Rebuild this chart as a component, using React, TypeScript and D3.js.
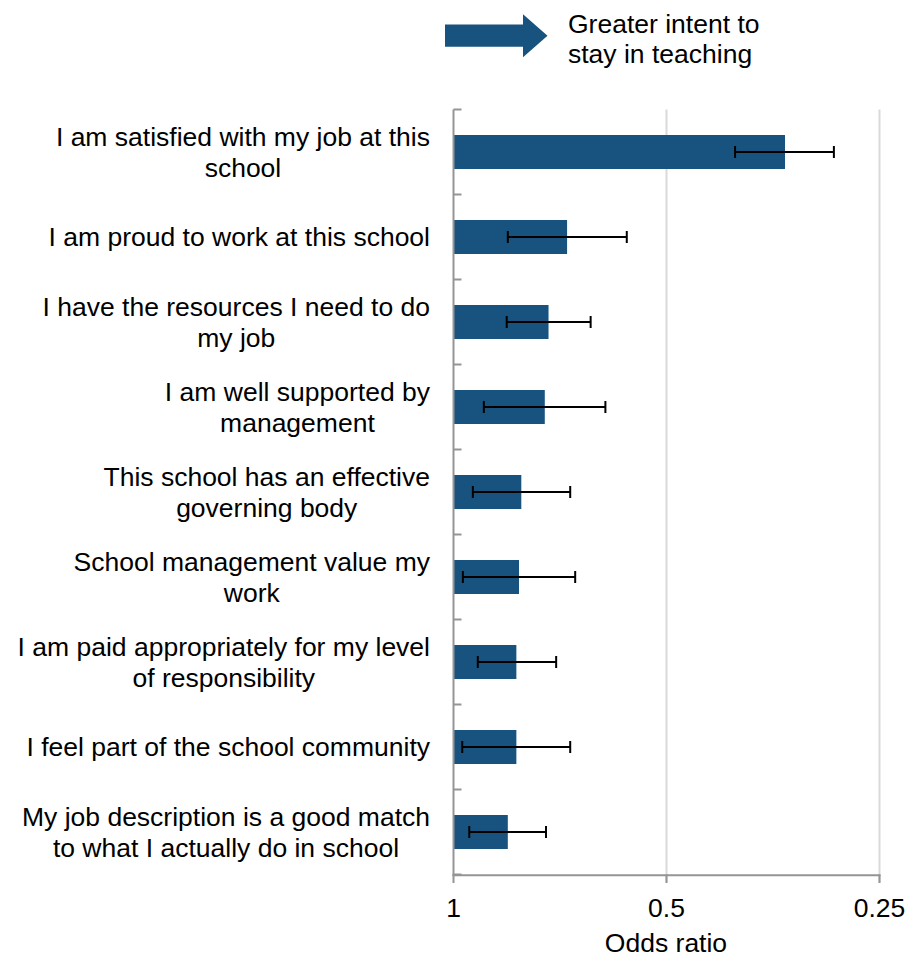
import React from "react";
import * as d3 from "d3";

const categoryLines: string[][] = [
  ["I am satisfied with my job at this", "school"],
  ["I am proud to work at this school"],
  ["I have the resources I need to do", "my job"],
  ["I am well supported by", "management"],
  ["This school has an effective", "governing body"],
  ["School management value my", "work"],
  ["I am paid appropriately for my level", "of responsibility"],
  ["I feel part of the school community"],
  ["My job description is a good match", "to what I actually do in school"],
];
const oddsRatio: number[] = [0.34, 0.691, 0.734, 0.743, 0.802, 0.808, 0.815, 0.815, 0.838];
const ciUpper: number[] = [0.4, 0.838, 0.841, 0.906, 0.939, 0.97, 0.924, 0.972, 0.95];
const ciLower: number[] = [0.29, 0.569, 0.64, 0.61, 0.684, 0.673, 0.716, 0.684, 0.74];
const tickValues: number[] = [1, 0.5, 0.25];
const tickLabels: string[] = ["1", "0.5", "0.25"];
const axisTitle = "Odds ratio";
const arrowLabel: string[] = ["Greater intent to", "stay in teaching"];

const W = 908;
const H = 958;
const FONT = "'Liberation Sans', Arial, sans-serif";
const FS = 26.5;
const BLUE = "#18537F";
const AXIS = "#959595";
const GRID = "#d9d9d9";

let measureCtx: CanvasRenderingContext2D | null = null;
function textWidth(s: string): number {
  if (!measureCtx) {
    const c = document.createElement("canvas");
    measureCtx = c.getContext("2d");
  }
  if (!measureCtx) return s.length * FS * 0.5;
  measureCtx.font = `${FS}px 'Liberation Sans', Arial, sans-serif`;
  return measureCtx.measureText(s).width;
}

export default function App() {
  const left = 453.5;
  const right = 879.5;
  const top = 109.5;
  const bottom = 874.5;

  const x = d3.scaleLog().base(2).domain([1, 0.25]).range([left, right]);
  const ids = categoryLines.map((_, i) => String(i));
  const y = d3
    .scaleBand<string>()
    .domain(ids)
    .range([top, bottom])
    .paddingInner(0.6)
    .paddingOuter(0.3);
  const step = y.step();
  const bw = y.bandwidth();
  const labelRight = 430;
  const lineGap = 31;
  const capHalf = FS * 0.716 / 2;

  const arrowPts: [number, number][] = [
    [445, 24.5],
    [523, 24.5],
    [523, 14.3],
    [547.5, 35.8],
    [523, 57.3],
    [523, 46.8],
    [445, 46.8],
  ];

  return (
    <svg
      width={W}
      height={H}
      style={{ position: "absolute", left: 0, top: 0, background: "#fff" }}
      fontFamily={FONT}
    >
      <rect x={0} y={0} width={W} height={H} fill="#fff" />
      {/* header arrow */}
      <polygon points={arrowPts.map((p) => p.join(",")).join(" ")} fill={BLUE} />
      {arrowLabel.map((t, i) => (
        <text key={t} x={568} y={33.3 + i * 30} fontSize={FS} fill="#000">
          {t}
        </text>
      ))}

      {/* gridlines */}
      {tickValues.slice(1).map((v) => (
        <line key={v} x1={x(v)} x2={x(v)} y1={top} y2={bottom + 8} stroke={GRID} strokeWidth={2} />
      ))}

      {/* bars */}
      {ids.map((id, i) => (
        <rect
          key={id}
          x={x(1)}
          y={y(id)!}
          width={x(oddsRatio[i]) - x(1)}
          height={bw}
          fill={BLUE}
        />
      ))}

      {/* error bars */}
      {ids.map((id, i) => {
        const cy = y(id)! + bw / 2;
        const x1 = x(ciUpper[i]);
        const x2 = x(ciLower[i]);
        return (
          <g key={id} stroke="#000" strokeWidth={2}>
            <line x1={x1} x2={x2} y1={cy} y2={cy} />
            <line x1={x1} x2={x1} y1={cy - 6} y2={cy + 6} />
            <line x1={x2} x2={x2} y1={cy - 6} y2={cy + 6} />
          </g>
        );
      })}

      {/* left axis */}
      <line x1={left} x2={left} y1={top} y2={bottom + 1} stroke={AXIS} strokeWidth={2} />
      {d3.range(categoryLines.length + 1).map((k) => (
        <line
          key={k}
          x1={left}
          x2={left + 8}
          y1={top + k * step}
          y2={top + k * step}
          stroke={AXIS}
          strokeWidth={2}
        />
      ))}

      {/* bottom axis */}
      <line x1={left - 1} x2={right + 1} y1={bottom + 0.8} y2={bottom + 0.8} stroke={AXIS} strokeWidth={2} />
      {tickValues.map((v, i) => (
        <g key={v}>
          <line x1={x(v)} x2={x(v)} y1={bottom} y2={bottom + 8.5} stroke={AXIS} strokeWidth={2} />
          <text x={x(v)} y={916.7} fontSize={FS} textAnchor="middle" fill="#000">
            {tickLabels[i]}
          </text>
        </g>
      ))}
      <text x={(left + right) / 2 - 0.5} y={952} fontSize={FS} textAnchor="middle" fill="#000">
        {axisTitle}
      </text>

      {/* category labels */}
      {categoryLines.map((lines, i) => {
        const cy = y(ids[i])! + bw / 2;
        const maxW = Math.max(...lines.map(textWidth));
        const cx = labelRight - maxW / 2;
        const n = lines.length;
        return (
          <text key={i} fontSize={FS} textAnchor="middle" fill="#000">
            {lines.map((ln, j) => (
              <tspan key={j} x={cx} y={cy + capHalf + (j - (n - 1) / 2) * lineGap}>
                {ln}
              </tspan>
            ))}
          </text>
        );
      })}
    </svg>
  );
}
